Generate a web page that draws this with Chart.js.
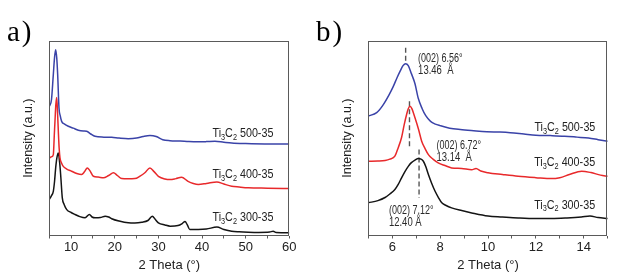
<!DOCTYPE html>
<html><head><meta charset="utf-8">
<script src="https://cdn.jsdelivr.net/npm/chart.js@4/dist/chart.umd.min.js"></script>
<style>
html,body{margin:0;padding:0;background:#fff;width:621px;height:279px;overflow:hidden}
#ca{position:absolute;left:0;top:0}
#cb{position:absolute;left:310px;top:0}
.pl{position:absolute;font-family:"Liberation Serif","Times New Roman",serif;font-size:29px;line-height:1;color:#000;letter-spacing:2px}
</style></head><body>
<canvas id="ca" width="310" height="279"></canvas>
<canvas id="cb" width="311" height="279"></canvas>
<div class="pl" style="left:7px;top:17px">a)</div>
<div class="pl" style="left:316px;top:17px">b)</div>
<script>
// ---------- Panel a: wide-angle XRD (2θ 5–60°) ----------
const thetaA500 = [5,5.5,5.92,6.2,6.46,6.7,6.92,7.22,7.5,7.83,8.5,9.36,10.5,11.65,12.8,13.56,14.5,15.47,17.5,19.3,21,23.1,25,26.5,28.07,29.5,31,32.66,35,37,39.15,41,42.97,45,46.8,50,54.4,57,60];
const intA500   = [66.2,69.7,82.6,91.3,95.4,91.3,82.6,65.6,61.5,58.6,57.2,56.1,55.1,54.0,53.6,53.5,52.1,50.9,50.5,50.4,50.0,49.7,50.0,50.8,51.3,50.8,49.2,48.7,48.5,48.2,48.1,48.2,48.4,47.9,47.5,47.2,47.0,47.0,47.0];
const thetaA400 = [5,5.6,5.92,6.15,6.3,6.5,6.69,6.88,7.07,7.25,7.45,7.8,8.2,9,10.1,11.3,12.4,13.1,13.7,14.3,15.1,16.2,17.4,18.6,19.7,20.6,21.6,23,24.6,25.8,26.9,28.07,29,30,31.5,32.7,34,35.3,36.8,38,39.15,41,43.4,45,46.8,48.5,50.6,55,60];
const intA400   = [39.8,40.5,41.5,51.8,58.6,67.2,70.9,63.6,53.5,45.1,39.8,37.2,35.5,34.1,33.0,31.8,31.3,32.8,34.7,33.3,30.4,30.0,29.6,30.8,32.2,30.8,29.2,29.1,29.2,30.5,32.2,34.7,32.8,30.4,29.0,28.7,29.2,29.9,27.8,26.7,26.2,26.7,27.5,26.4,25.3,24.9,24.5,24.3,24.1];
const thetaA300 = [5,5.5,5.92,6.2,6.46,6.75,7.07,7.35,7.6,7.98,8.4,9,10,10.9,12,13.2,14.2,14.8,15.5,16.7,17.8,18.6,19.3,21,23.1,24.6,26.2,27.6,28.6,29.3,30,31.5,32.7,34.5,35.5,36.1,36.6,37.2,39.15,41,43.4,45,46.8,48.5,50.6,53,55.5,56.3,57,60];
const intA300   = [18.5,20.5,22.7,27.7,34.7,40.0,42.4,37.9,31.3,19.3,15.9,13.3,11.8,10.8,9.7,9.1,10.8,9.5,9.1,9.2,9.9,9.5,8.6,7.4,6.5,6.4,6.8,7.7,9.9,8.2,6.5,5.4,4.8,5.1,6.2,7.2,5.6,3.1,3.1,3.3,4.3,3.1,2.2,1.9,1.7,1.6,1.8,2.2,1.5,1.4];

// ---------- Panel b: (002) region (2θ 5–15°) ----------
const thetaB500 = [5,5.35,5.6,5.85,6.04,6.2,6.32,6.45,6.56,6.67,6.8,6.95,7.09,7.25,7.4,7.6,7.8,8,8.4,8.84,9.4,9.95,10.5,10.93,11.5,12,12.6,13.2,13.72,14.2,14.6,15];
const intB500   = [61.3,63.1,66.7,71.8,76.4,81.0,84.1,87.2,88.2,87.2,83.1,77.9,70.3,65.1,61.5,58.6,57.2,56.4,55.1,54.4,53.8,53.3,53.1,52.8,52.1,51.5,51.3,51.0,50.5,50.0,49.2,48.4];
const thetaB400 = [5,5.4,5.7,5.9,6.11,6.25,6.39,6.5,6.6,6.67,6.74,6.82,6.95,7.1,7.23,7.37,7.51,7.7,7.92,8.2,8.48,8.9,9.32,9.5,9.7,10,10.6,11.26,12,12.66,13,13.4,13.91,14.3,14.7,15];
const intB400   = [38.1,38.2,38.5,39.2,40.7,45.1,50.3,56.9,62.1,65.1,66.3,65.1,60.4,54.4,48.4,44.6,41.5,39.2,37.3,35.9,34.7,34.4,33.8,34.4,33.1,32.2,31.3,30.4,29.7,29.2,29.7,31.3,33.0,32.3,31.0,30.4];
const thetaB300 = [5,5.4,5.7,5.9,6.11,6.25,6.39,6.53,6.67,6.8,6.95,7.09,7.2,7.3,7.4,7.51,7.65,7.79,7.93,8.07,8.25,8.48,8.9,9.32,10,10.6,11.26,12,12.66,13.3,13.9,14.26,14.6,15];
const intB300   = [16.8,17.9,19.5,21.3,23.6,26.2,29.6,32.8,35.5,37.4,38.7,39.5,39.2,38.1,35.4,31.3,26.7,22.7,19.5,16.8,15.4,14.2,12.8,11.6,10.0,9.5,9.0,8.7,8.7,9.0,9.5,10.0,9.2,8.7];

// (002) peak markers: position and vertical extent
const peakPos    = [6.56, 6.72, 7.12];
const peakTop    = [96.4, 68.9, 44.1];
const peakBottom = [88.2, 45.1, 19.3];

// text
const sampleNames = ['500-35','400-35','300-35'];
const peakLabels  = ['(002) 6.56°','(002) 6.72°','(002) 7.12°'];
const dLabels     = ['13.46  Å','13.14  Å','12.40 Å'];
// label anchors (data coords)
const nameAnchorA = [[42.4,52.3],[42.4,31.3],[42.4,9.4]];
const nameAnchorB = [[11.94,55.5],[11.93,37.3],[11.93,15.6]];
const peakAnchorB = [[7.08,90.8],[7.85,46.2],[5.86,12.8]];
const dAnchorB    = [[7.08,84.6],[7.85,40.0],[5.86,6.6]];

const colors = ['#3a43a8','#e8292b','#141414'];
const SANS = '"Liberation Sans", Arial, sans-serif';

function pts(xs, ys){ return xs.map((x,i)=>({x:x, y:ys[i]})); }

// draws text condensed horizontally by factor k (the source uses a narrow face)
function drawRich(ctx, x, y, parts, size, color, k){
  ctx.save();
  ctx.translate(x, y); ctx.scale(k, 1);
  let cx = 0;
  ctx.fillStyle = color; ctx.textBaseline = 'middle'; ctx.textAlign='left';
  for (const [t, sub] of parts){
    const s = sub ? size*0.68 : size;
    ctx.font = s + 'px ' + SANS;
    ctx.fillText(t, cx, (sub ? size*0.32 : 0));
    cx += ctx.measureText(t).width;
  }
  ctx.restore();
}

const framePlugin = {
  id:'frameText',
  afterDatasetsDraw(chart, args, opts){
    const {ctx, chartArea:{left,top,right,bottom}, scales} = chart;
    ctx.save();
    ctx.strokeStyle = '#5a5a5a'; ctx.lineWidth = 1;
    ctx.strokeRect(Math.round(left)+0.5, Math.round(top)+0.5, Math.round(right-left)-1, Math.round(bottom-top)-1);
    const sx = scales.x, sy = scales.y;
    (opts.names||[]).forEach((a,i)=>{
      drawRich(ctx, sx.getPixelForValue(a[0]), sy.getPixelForValue(a[1]),
        [['Ti',0],['3',1],['C',0],['2',1],[' '+sampleNames[i],0]], opts.nameSize, '#222', 0.86);
    });
    (opts.peaks||[]).forEach((a,i)=>{
      drawRich(ctx, sx.getPixelForValue(a[0]), sy.getPixelForValue(a[1]), [[peakLabels[i],0]], opts.peakSize, '#2a2a2a', 0.72);
      const d = opts.ds[i];
      drawRich(ctx, sx.getPixelForValue(d[0]), sy.getPixelForValue(d[1]), [[dLabels[i],0]], opts.peakSize, '#2a2a2a', 0.76);
    });
    ctx.restore();
  }
};

function makeOpts(xmin, xmax, step, labelEvery, yLeft, yTitlePad, rightPad, plug){
  return {
    responsive:false, animation:false, devicePixelRatio:1,
    layout:{padding:{top:40.7, right:rightPad, bottom:0, left:0}},
    plugins:{legend:{display:false}, tooltip:{enabled:false}, frameText:plug},
    elements:{point:{radius:0}, line:{cubicInterpolationMode:'monotone'}},
    scales:{
      x:{type:'linear', min:xmin, max:xmax,
         border:{display:false},
         grid:{display:true, drawOnChartArea:false, drawTicks:true, tickLength:3, color:'#5a5a5a'},
         ticks:{stepSize:step, autoSkip:false, padding:1, color:'#222', font:{family:SANS, size:13},
                callback:v => (Math.abs(v % labelEvery) < 1e-9 ? String(v) : '')},
         title:{display:true, text:'2 Theta (°)', color:'#222', font:{family:SANS, size:13}, padding:{top:0,bottom:6}},
         afterFit:s => { s.height = 279 - 235.5; }
      },
      y:{type:'linear', min:0, max:100,
         border:{display:false},
         grid:{display:false},
         ticks:{display:false},
         title:{display:true, text:'Intensity (a.u.)', color:'#222', font:{family:SANS, size:12.5}, padding:{top:yTitlePad,bottom:0}},
         afterFit:s => { s.width = yLeft; }
      }
    }
  };
}

function lineDs(xs, ys, c){
  return {data:pts(xs,ys), borderColor:c, borderWidth:1.5, fill:false, pointRadius:0};
}

new Chart(document.getElementById('ca'), {
  type:'line',
  data:{datasets:[
    lineDs(thetaA500,intA500,colors[0]),
    lineDs(thetaA400,intA400,colors[1]),
    lineDs(thetaA300,intA300,colors[2])
  ]},
  options: makeOpts(5,60,5,10,49.3,21.2,20.7,{names:nameAnchorA, nameSize:12.5}),
  plugins:[framePlugin]
});

const dashDs = peakPos.map((p,i)=>({
  data:[{x:p,y:peakTop[i]},{x:p,y:peakBottom[i]}],
  borderColor:'#555', borderWidth:1.4, borderDash:[5,3], pointRadius:0, cubicInterpolationMode:'default', tension:0
}));

new Chart(document.getElementById('cb'), {
  type:'line',
  data:{datasets:[
    lineDs(thetaB500,intB500,colors[0]),
    lineDs(thetaB400,intB400,colors[1]),
    lineDs(thetaB300,intB300,colors[2]),
    ...dashDs
  ]},
  options: makeOpts(5,15,1,2,58.3,30.5,13.3,{names:nameAnchorB, nameSize:12.5, peaks:peakAnchorB, ds:dAnchorB, peakSize:12.5}),
  plugins:[framePlugin]
});
</script>
</body></html>
